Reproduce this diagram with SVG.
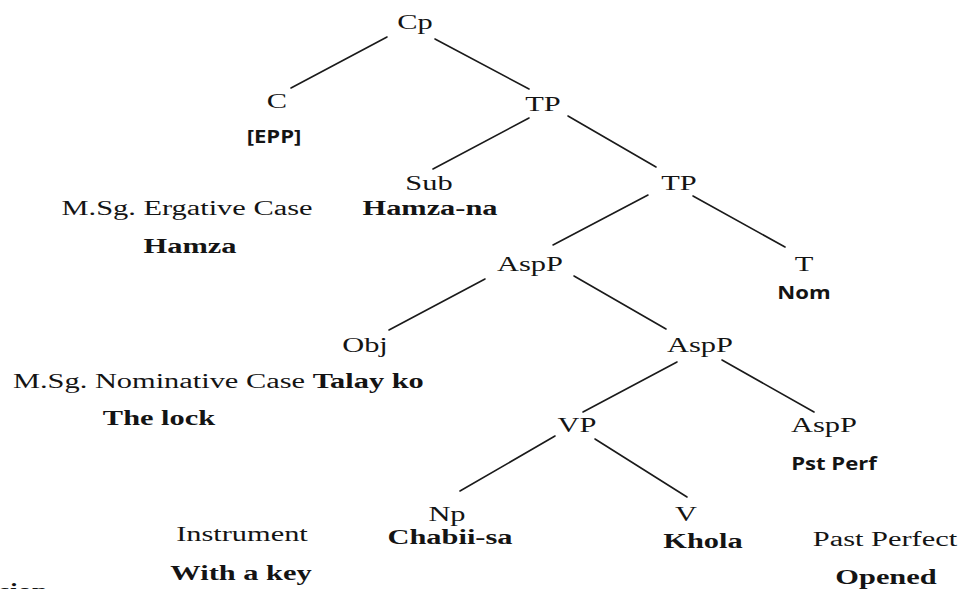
<svg xmlns="http://www.w3.org/2000/svg" width="962" height="589" viewBox="0 0 962 589">
  <style>
    text { fill: #141414; }
    .lab { font-family: "Liberation Serif", "Times New Roman", serif; font-size: 20px; text-anchor: middle; }
    .gl  { font-family: "Liberation Serif", "Times New Roman", serif; font-size: 20px; font-weight: bold; text-anchor: middle; }
    .ft  { font-family: "Open Sans", "Liberation Sans", sans-serif; font-size: 17px; font-weight: bold; text-anchor: middle; }
    .left { text-anchor: start; }
    .edges line { stroke: #1a1a1a; stroke-width: 1.6; stroke-linecap: round; }
  </style>
  <rect width="962" height="589" fill="#ffffff"/>

  <!-- branches of the tree -->
  <g id="connectors" class="edges">
    <line x1="387" y1="37" x2="291" y2="88"/>
    <line x1="435" y1="39" x2="529" y2="89"/>
    <line x1="529" y1="118" x2="433" y2="169"/>
    <line x1="568" y1="116" x2="656" y2="167"/>
    <line x1="648" y1="195" x2="553" y2="245"/>
    <line x1="693" y1="196" x2="785" y2="247"/>
    <line x1="485" y1="279" x2="389" y2="330"/>
    <line x1="574" y1="276" x2="666" y2="329"/>
    <line x1="677" y1="362" x2="583" y2="412"/>
    <line x1="722" y1="360" x2="814" y2="412"/>
    <line x1="555" y1="436" x2="460" y2="491"/>
    <line x1="595" y1="439" x2="687" y2="497"/>
  </g>

  <!-- labels are widened horizontally by a scale transform -->
  <g id="node-cp">
    <text class="lab" transform="translate(415 29) scale(1.52 1)">Cp</text>
  </g>
  <g id="node-c">
    <text class="lab" transform="translate(277 108) scale(1.52 1)">C</text>
    <text class="ft" transform="translate(274 143) scale(1.3 1)">[EPP]</text>
  </g>
  <g id="node-tp1">
    <text class="lab" transform="translate(543 111) scale(1.52 1)">TP</text>
  </g>
  <g id="node-sub">
    <text class="lab" transform="translate(429 190) scale(1.52 1)">Sub</text>
    <text class="gl" transform="translate(430 215) scale(1.52 1)">Hamza-na</text>
  </g>
  <g id="note-ergative">
    <text class="lab" transform="translate(187 215) scale(1.52 1)">M.Sg. Ergative Case</text>
    <text class="gl" transform="translate(190 253) scale(1.52 1)">Hamza</text>
  </g>
  <g id="node-tp2">
    <text class="lab" transform="translate(679 190) scale(1.52 1)">TP</text>
  </g>
  <g id="node-aspp1">
    <text class="lab" transform="translate(530 271) scale(1.52 1)">AspP</text>
  </g>
  <g id="node-t">
    <text class="lab" transform="translate(804 271) scale(1.52 1)">T</text>
    <text class="ft" transform="translate(804 299) scale(1.3 1)">Nom</text>
  </g>
  <g id="node-obj">
    <text class="lab" transform="translate(365 352) scale(1.52 1)">Obj</text>
  </g>
  <g id="note-nominative">
    <text class="lab left" transform="translate(13 388) scale(1.52 1)">M.Sg. Nominative Case <tspan font-weight="bold">Talay ko</tspan></text>
    <text class="gl" transform="translate(159 425) scale(1.52 1)">The lock</text>
  </g>
  <g id="node-aspp2">
    <text class="lab" transform="translate(700 352) scale(1.52 1)">AspP</text>
  </g>
  <g id="node-vp">
    <text class="lab" transform="translate(577 432) scale(1.52 1)">VP</text>
  </g>
  <g id="node-aspp3">
    <text class="lab" transform="translate(824 432) scale(1.52 1)">AspP</text>
    <text class="ft" transform="translate(834 470) scale(1.3 1)">Pst Perf</text>
  </g>
  <g id="node-np">
    <text class="lab" transform="translate(447 521) scale(1.52 1)">Np</text>
    <text class="gl" transform="translate(450 544) scale(1.52 1)">Chabii-sa</text>
  </g>
  <g id="node-v">
    <text class="lab" transform="translate(686 521) scale(1.52 1)">V</text>
    <text class="gl" transform="translate(703 548) scale(1.52 1)">Khola</text>
  </g>
  <g id="note-instrument">
    <text class="lab" transform="translate(242 541) scale(1.52 1)">Instrument</text>
    <text class="gl" transform="translate(241 580) scale(1.52 1)">With a key</text>
  </g>
  <g id="note-perfect">
    <text class="lab" transform="translate(885 546) scale(1.52 1)">Past Perfect</text>
    <text class="gl" transform="translate(886 584) scale(1.52 1)">Opened</text>
  </g>
  <!-- first line of the caption below, mostly past the bottom edge -->
  <g id="caption-fragment">
    <text class="gl left" transform="translate(-1 598) scale(1.4 1)" font-size="23">sion</text>
  </g>
</svg>
